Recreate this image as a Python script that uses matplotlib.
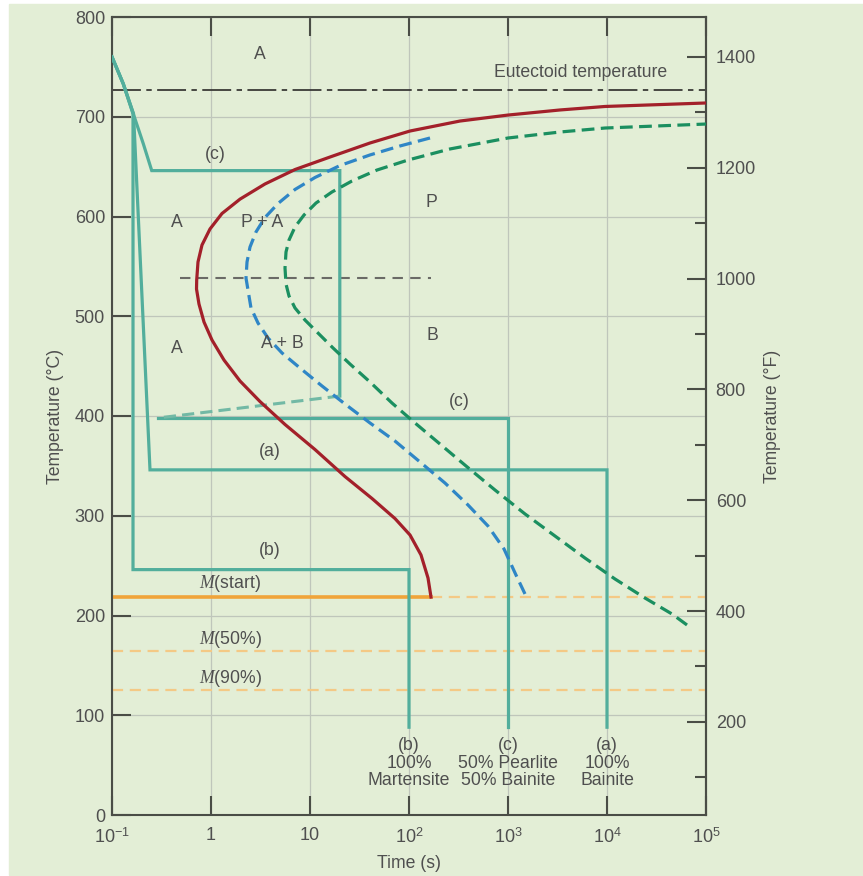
import matplotlib
matplotlib.use('Agg')
import matplotlib.pyplot as plt
from matplotlib.patches import Rectangle
from matplotlib.ticker import FixedLocator, NullLocator

plt.rcParams['font.family'] = ['Liberation Sans', 'DejaVu Sans']
plt.rcParams['mathtext.fontset'] = 'custom'
plt.rcParams['mathtext.rm'] = 'Liberation Sans'
plt.rcParams['mathtext.it'] = 'Liberation Serif:italic'
plt.rcParams['mathtext.bf'] = 'Liberation Sans:bold'

# ---- data (time in s, temperature in degC) ----
# start of transformation (solid red), from the Ms end round the nose to the top
red_t = [166.8, 155.6, 132.2, 102.4, 72.2, 42.3, 22.57, 11.23, 5.592, 3.126,
         1.963, 1.353, 1.023, 0.850, 0.756, 0.714, 0.717, 0.739, 0.811, 0.977,
         1.291, 1.963, 3.51, 7.06, 15.9, 40.4, 102.4, 327, 1000, 3353, 9546, 1e5]
red_T = [218.5, 237.6, 260.7, 280.7, 297.2, 317.3, 339.3, 366.4, 391.5, 414.5,
         435.1, 456.1, 476.2, 494.2, 512.3, 527.3, 536.3, 554.4, 571.4, 587.5,
         603.0, 617.4, 632.6, 647.1, 659.6, 673.7, 685.7, 695.7, 701.7, 706.8,
         710.3, 713.8]

# 50% completion (blue dashed)
blue_t = [1485, 1204, 911.3, 628.1, 394.5, 231.0, 129.2, 72.2, 40.37, 22.57,
          13.22, 7.925, 5.214, 3.765, 2.984, 2.535, 2.257, 2.311, 2.477, 2.848,
          3.512, 4.753, 7.056, 11.23, 20.09, 40.37, 81.13, 163.0]
blue_T = [221.6, 240.6, 266.7, 289.7, 310.8, 332.8, 353.9, 374.9, 393.0, 412.0,
          430.1, 448.1, 463.2, 478.2, 493.2, 508.3, 538.3, 554.4, 569.4, 584.5,
          599.0, 613.0, 627.1, 639.1, 651.1, 661.7, 670.7, 678.7]

# completion (green dashed)
green_t = [64280, 45360, 24200, 12040, 5995, 2983, 1485, 739.2, 376.5, 205.6,
           115.0, 67.36, 40.37, 25.35, 17.08, 12.04, 8.904, 7.056, 6.137, 5.723,
           5.592, 5.723, 6.137, 7.056, 8.700, 11.50, 16.68, 26.56, 47.53, 97.7,
           259.5, 1000, 3353, 9546, 1e5]
green_T = [190.5, 201.5, 217.5, 236.6, 257.6, 279.7, 301.8, 325.8, 349.9, 371.9,
           393.0, 413.0, 434.1, 452.1, 468.2, 483.2, 496.2, 508.3, 520.3, 532.3,
           548.4, 564.4, 576.4, 589.5, 601.5, 613.5, 624.6, 635.6, 646.6, 656.6,
           667.7, 678.7, 684.7, 688.7, 692.7]

# cooling paths (teal)
path_a_t = [0.1, 0.13, 0.165, 0.242, 1e4, 1e4]
path_a_T = [760, 733, 703, 346, 346, 88]
path_b_t = [0.1, 0.13, 0.163, 0.163, 100, 100]
path_b_T = [760, 733, 703, 246, 246, 88]
path_c1_t = [0.1, 0.13, 0.164, 0.207, 0.252, 20, 20]
path_c1_T = [760, 733, 703, 673, 646, 646, 420]
path_c_dash_t = [20, 0.29]
path_c_dash_T = [420, 398]
path_c2_t = [0.29, 1000, 1000]
path_c2_T = [398, 398, 88]

eutectoid_T = 727
nose_T = 538
nose_t = [0.49, 167]
ms_T = 219
ms_end_t = 166.8
m50_T = 164
m90_T = 125

xticks = [0.1, 1, 10, 100, 1e3, 1e4, 1e5]
xtick_labels = ['$10^{-1}$', '1', '10', '$10^{2}$', '$10^{3}$', '$10^{4}$', '$10^{5}$']
yticks = list(range(0, 801, 100))
f_major = list(range(200, 1401, 200))
f_minor = list(range(100, 1501, 200))

# ---- styles ----
BG = '#e3eed6'
DARK = '#4a4d46'
TXT = '#4f4f4f'
GRID = '#bfc6bb'
RED = '#a3202a'
BLUE = '#2f86c6'
GREEN = '#1b8f60'
TEAL = '#52ae9c'
TEAL_L = '#72b9a5'
ORANGE = '#f0a43a'
ORANGE_L = '#f4c985'
FS = 12.7

fig = plt.figure(figsize=(8.63, 8.76), dpi=100)
fig.patches.append(Rectangle((9 / 863, 1 / 876), 1, 871 / 876,
                             transform=fig.transFigure, color=BG, zorder=-10))
ax = fig.add_axes([112 / 863, 61 / 876, 594 / 863, 798 / 876])
ax.set_facecolor(BG)
ax.set_xscale('log')
ax.set_xlim(0.1, 1e5)
ax.set_ylim(0, 800)

ax.set_xticks(xticks)
ax.set_xticklabels(xtick_labels)
ax.xaxis.set_minor_locator(NullLocator())
ax.set_yticks(yticks)
ax.tick_params(axis='both', direction='in', length=14, width=1.5, color=DARK,
               labelsize=13, labelcolor=TXT, top=True, right=False)
ax.tick_params(axis='x', pad=9)
ax.tick_params(axis='y', pad=5)
ax.grid(True, color=GRID, lw=0.9)
ax.set_axisbelow(True)
for s in ax.spines.values():
    s.set_color(DARK)
    s.set_linewidth(1.5)

# cooling paths
for tt, TT in [(path_a_t, path_a_T), (path_b_t, path_b_T),
               (path_c1_t, path_c1_T), (path_c2_t, path_c2_T)]:
    ax.plot(tt, TT, color=TEAL, lw=2.3, solid_joinstyle='miter', zorder=3)
ax.plot(path_c_dash_t, path_c_dash_T, color=TEAL_L, lw=2.2,
        linestyle=(0, (4, 2)), zorder=3)

# martensite lines
ax.plot([0.1, ms_end_t], [ms_T, ms_T], color=ORANGE, lw=2.6, zorder=2)
ax.plot([ms_end_t, 1e5], [ms_T, ms_T], color=ORANGE_L, lw=1.6,
        linestyle=(0, (5, 3)), zorder=2)
ax.plot([0.1, 1e5], [m50_T, m50_T], color=ORANGE_L, lw=1.6,
        linestyle=(0, (5, 3)), zorder=2)
ax.plot([0.1, 1e5], [m90_T, m90_T], color=ORANGE_L, lw=1.6,
        linestyle=(0, (5, 3)), zorder=2)

# eutectoid and nose lines
ax.plot([0.1, 1e5], [eutectoid_T, eutectoid_T], color='#3a3a36', lw=1.3,
        linestyle=(0, (16, 3, 3, 3)), zorder=2)
ax.plot(nose_t, [nose_T, nose_T], color='#6a6a66', lw=1.5,
        linestyle=(0, (5, 3.5)), zorder=2)

# transformation curves
ax.plot(green_t, green_T, color=GREEN, lw=2.3, linestyle=(0, (4, 2)), zorder=4)
ax.plot(blue_t, blue_T, color=BLUE, lw=2.3, linestyle=(0, (4, 2)), zorder=4)
ax.plot(red_t, red_T, color=RED, lw=2.3, zorder=5)

# region labels
labels = [
    (3.13, 762, 'A'), (0.45, 594, 'A'), (3.27, 594, 'P + A'), (167, 614, 'P'),
    (0.45, 468, 'A'), (5.2, 473, 'A + B'), (174, 481, 'B'),
    (1.1, 662, '(c)'), (320, 415, '(c)'), (3.94, 364, '(a)'), (3.94, 265, '(b)'),
]
for x, y, s in labels:
    ax.text(x, y, s, fontsize=FS, color=TXT, ha='center', va='center', zorder=6)
ax.text(1.56, 232, '$M$(start)', fontsize=FS, color=TXT, ha='center', va='center')
ax.text(1.56, 176, '$M$(50%)', fontsize=FS, color=TXT, ha='center', va='center')
ax.text(1.56, 137, '$M$(90%)', fontsize=FS, color=TXT, ha='center', va='center')
ax.text(720, 744, 'Eutectoid temperature', fontsize=FS, color=TXT,
        ha='left', va='center')

ax.text(100, 52, '(b)\n100%\nMartensite', fontsize=FS, color=TXT,
        ha='center', va='center', linespacing=1.05)
ax.text(1000, 52, '(c)\n50% Pearlite\n50% Bainite', fontsize=FS, color=TXT,
        ha='center', va='center', linespacing=1.05)
ax.text(1e4, 52, '(a)\n100%\nBainite', fontsize=FS, color=TXT,
        ha='center', va='center', linespacing=1.05)

ax.set_xlabel('Time (s)', fontsize=FS, color=TXT, labelpad=6)
ax.set_ylabel('Temperature (°C)', fontsize=FS, color=TXT, labelpad=8)

# Fahrenheit axis
sec = ax.secondary_yaxis('right', functions=(lambda c: c * 9 / 5 + 32,
                                             lambda f: (f - 32) * 5 / 9))
sec.set_yticks(f_major)
sec.yaxis.set_minor_locator(FixedLocator(f_minor))
sec.tick_params(which='major', direction='in', length=14, width=1.5, color=DARK,
                labelsize=13, labelcolor=TXT, pad=7)
sec.tick_params(which='minor', direction='in', length=8, width=1.5, color=DARK)
sec.spines['right'].set_color(DARK)
sec.spines['right'].set_linewidth(1.5)
sec.set_ylabel('Temperature (°F)', fontsize=FS, color=TXT, labelpad=6)

fig.savefig('out.png', dpi=100, facecolor='white')
